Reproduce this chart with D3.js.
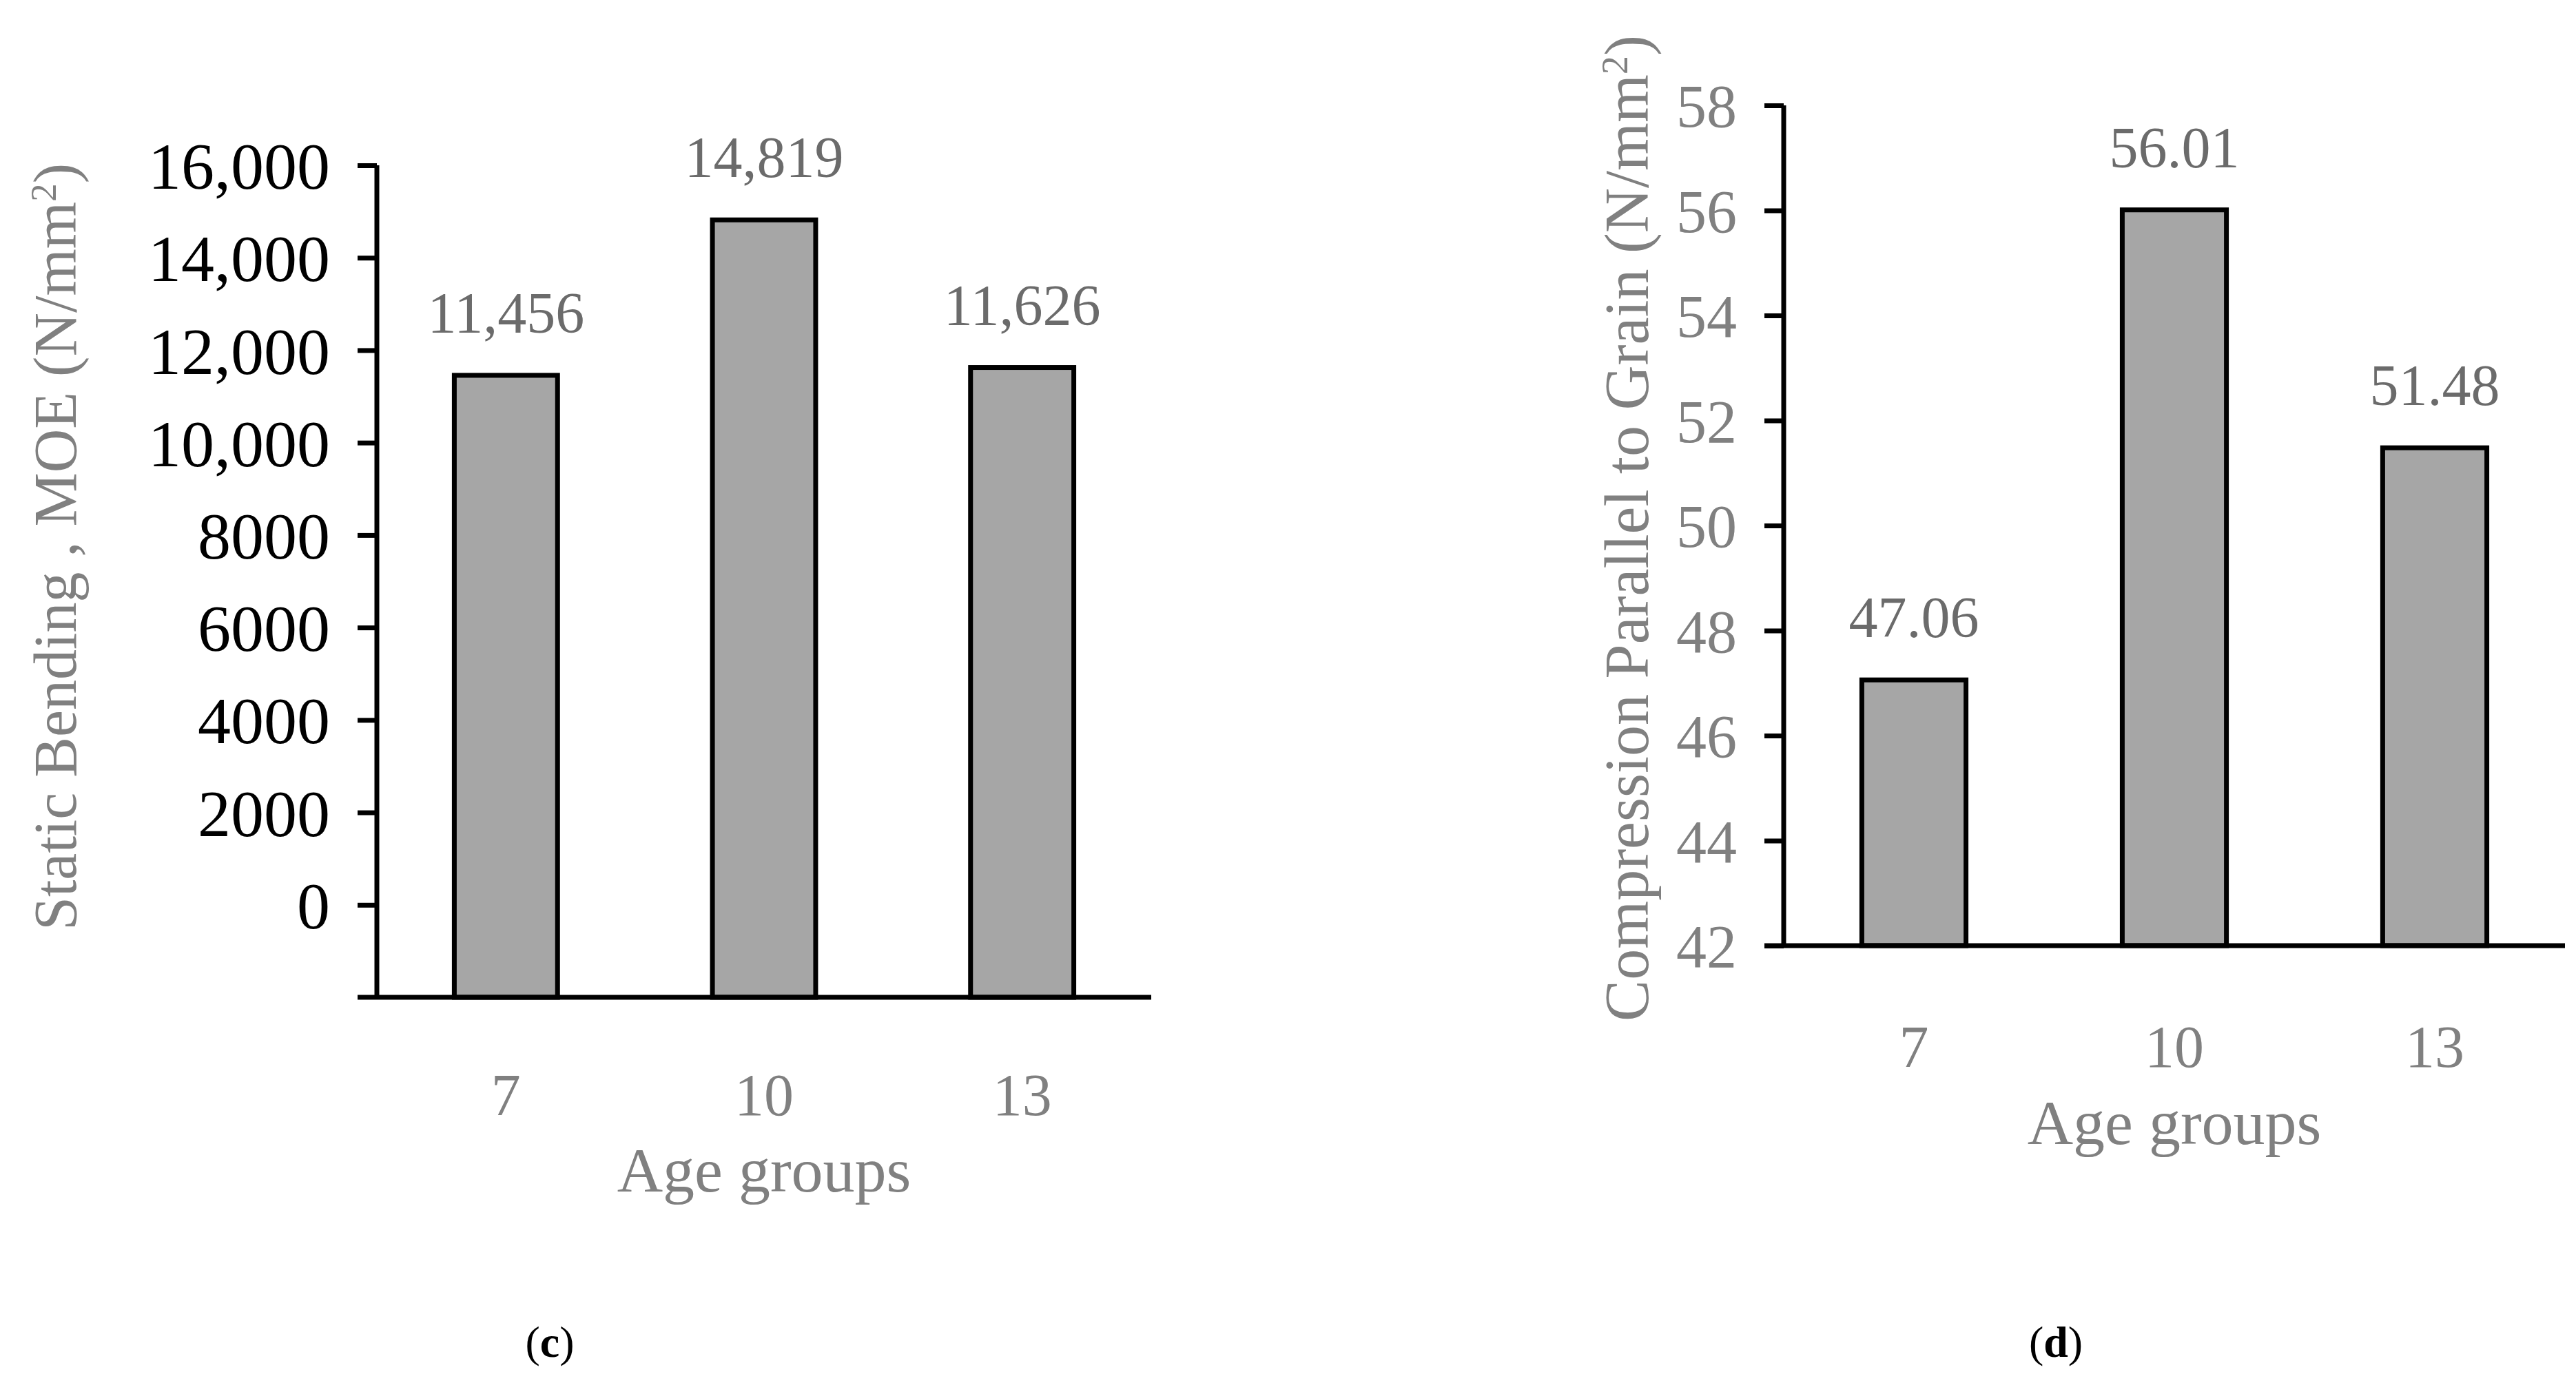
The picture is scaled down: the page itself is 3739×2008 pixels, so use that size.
<!DOCTYPE html>
<html><head><meta charset="utf-8">
<script src="https://cdn.jsdelivr.net/npm/d3@7"></script>
<style>body{margin:0;background:#fff}text{font-family:"Liberation Serif","DejaVu Serif",serif}</style>
</head><body>
<svg id="c" width="3739" height="2008"></svg>
<script>
const categories = ["7","10","13"];
const moeValues = [11456, 14819, 11626];
const moeLabels = ["11,456","14,819","11,626"];
const moeTicks = [0,2000,4000,6000,8000,10000,12000,14000,16000];
const compValues = [47.06, 56.01, 51.48];
const compLabels = ["47.06","56.01","51.48"];
const compTicks = [42,44,46,48,50,52,54,56,58];

const svg = d3.select("#c");
const grayT = "#808080", valC = "#6b6b6b";

function panel(o){
  const g = svg.append("g");
  const x = d3.scaleBand().domain(categories).range([o.x0,o.x1]).paddingInner(0.6).paddingOuter(0.3);
  const y = d3.scaleLinear().domain(o.domain).range([o.yb,o.yt]);
  g.selectAll("rect.bar").data(o.values).join("rect")
    .attr("x",(d,i)=>x(categories[i])).attr("width",x.bandwidth())
    .attr("y",d=>y(d)).attr("height",d=>o.yb-y(d))
    .attr("fill","#a6a6a6").attr("stroke","#000").attr("stroke-width",7);
  g.selectAll("text.val").data(o.values).join("text")
    .attr("x",(d,i)=>x(categories[i])+x.bandwidth()/2).attr("y",d=>y(d)-62)
    .attr("text-anchor","middle").attr("font-size",84).attr("fill",valC)
    .text((d,i)=>o.labels[i]);
  const ya = g.append("g").attr("transform",`translate(${o.x0},0)`)
    .call(d3.axisLeft(y).tickValues(o.ticks).tickSize(28).tickPadding(40)
      .tickFormat(d=>d>=10000?d3.format(",")(d):String(d)));
  ya.select(".domain").attr("d",`M0,${o.yb}V${o.yt}`).attr("stroke","#000").attr("stroke-width",7);
  ya.selectAll(".tick line").attr("stroke","#000").attr("stroke-width",7);
  ya.selectAll(".tick text").attr("font-size",o.tickFs).attr("fill",o.tickColor).attr("dy","0.35em");
  const xa = g.append("g").attr("transform",`translate(0,${o.yb})`)
    .call(d3.axisBottom(x).tickSize(0).tickPadding(o.xPad));
  xa.select(".domain").attr("d",`M${o.x0-28},0H${o.x1}`).attr("stroke","#000").attr("stroke-width",7);
  xa.selectAll(".tick text").attr("font-size",86).attr("fill",grayT);
  g.append("text").attr("x",(o.x0+o.x1)/2).attr("y",o.yb+o.agY).attr("text-anchor","middle")
    .attr("font-size",92).attr("fill",grayT).text("Age groups");
  const t = g.append("text").attr("transform",`translate(${o.titleX},${o.titleY}) rotate(-90)`)
    .attr("text-anchor","middle").attr("font-size",o.titleFs).attr("fill",grayT);
  t.append("tspan").text(o.title);
  t.append("tspan").attr("baseline-shift","super").attr("font-size",o.titleFs*0.6).text("2");
  t.append("tspan").text(")");
  const p = g.append("text").attr("x",o.capX).attr("y",o.capY).attr("text-anchor","middle").attr("font-size",64).attr("fill","#000");
  p.append("tspan").text("(");
  p.append("tspan").attr("font-weight","bold").text(o.cap);
  p.append("tspan").text(")");
}

panel({x0:547,x1:1671,yb:1448,yt:240,domain:[-2000,16000],values:moeValues,labels:moeLabels,ticks:moeTicks,
  tickFs:96,tickColor:"#000",title:"Static Bending , MOE (N/mm",titleX:110,titleY:794,titleFs:88,
  xPad:110,agY:282,cap:"c",capX:798,capY:1970});
panel({x0:2589,x1:3723,yb:1373,yt:153,domain:[42,58],values:compValues,labels:compLabels,ticks:compTicks,
  tickFs:88,tickColor:grayT,title:"Compression Parallel to Grain (N/mm",titleX:2392,titleY:767,titleFs:90,
  xPad:115,agY:288,cap:"d",capX:2984,capY:1970});
</script>
</body></html>
